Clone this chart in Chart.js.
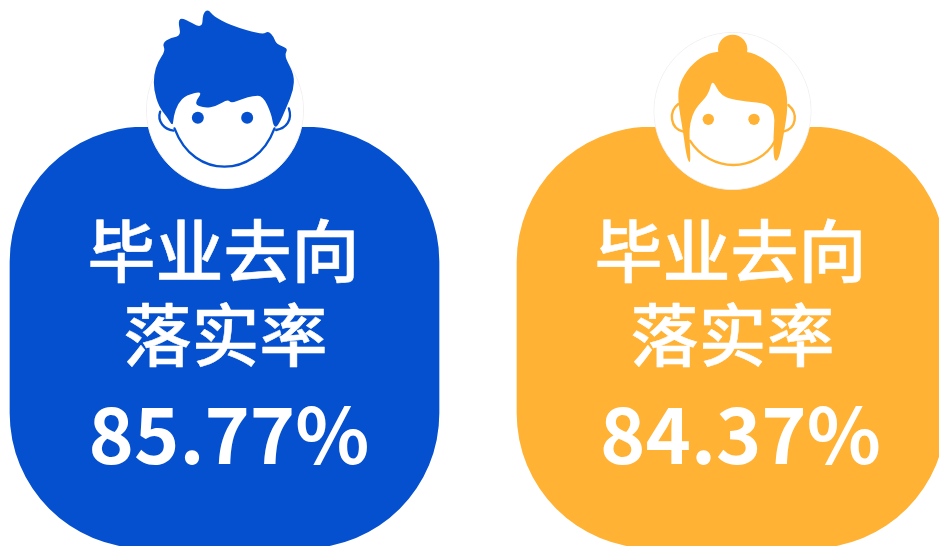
<!DOCTYPE html>
<html>
<head>
<meta charset="utf-8">
<script src="https://cdn.jsdelivr.net/npm/chart.js@4"></script>
<style>
html,body{margin:0;padding:0;background:#fff;overflow:hidden;width:939px;height:546px}
#wrap{position:absolute;left:-29px;top:0;width:1014px;height:560px}
</style>
</head>
<body>
<div id="wrap"><canvas id="rate" width="1014" height="560"></canvas></div>
<script>
var categories = ['男', '女'];
var rates = [85.77, 84.37];
var cardValues = [100, 100];
var titleLines = ['毕业去向', '落实率'];
var colors = ['#0550cf', '#ffb233'];

// hair outlines (px*3, origin = top left of the avatar box)
var boyHair = [[130,380],[112,350],[88,320],[73,270],[73,225],[85,185],[108,152],[98,130],[125,112],[155,108],[145,62],[160,52],[218,88],[220,40],[236,28],[252,48],[300,75],[400,105],[416,92],[434,112],[440,132],[476,145],[466,162],[472,182],[494,225],[492,270],[472,320],[445,380],[432,380],[425,340],[400,287],[370,287],[340,296],[305,310],[295,298],[260,319],[225,324],[192,312],[222,273],[170,285],[145,310],[132,350]];
var girlHair = [[146,426],[138,400],[130,340],[113,240],[118,190],[150,138],[195,103],[240,93],[320,93],[370,113],[412,150],[437,200],[444,260],[432,340],[416,422],[401,422],[400,350],[405,280],[380,250],[320,245],[260,235],[235,215],[217,178],[205,225],[165,265],[150,310],[148,345],[152,426]];

function smooth(ctx, pts) {
	ctx.beginPath();
	var n = pts.length;
	ctx.moveTo((pts[n-1][0]+pts[0][0])/2, (pts[n-1][1]+pts[0][1])/2);
	for (var i = 0; i < n; i++) {
		var p = pts[i], q = pts[(i+1)%n];
		ctx.quadraticCurveTo(p[0], p[1], (p[0]+q[0])/2, (p[1]+q[1])/2);
	}
	ctx.closePath();
	ctx.fill();
}
function dot(ctx, x, y, r) {
	ctx.beginPath();
	ctx.arc(x, y, r, 0, Math.PI*2);
	ctx.fill();
}
function line(ctx, d) {
	ctx.stroke(new Path2D(d));
}

function drawBoy(ctx) {
	smooth(ctx, boyHair);
	dot(ctx, 205, 353, 18);
	dot(ctx, 353, 353, 18);
	line(ctx, 'M135 385 C165 465 225 500 285 500 C345 500 405 465 435 385');
	line(ctx, 'M92 335 C82 365 105 388 132 392');
	line(ctx, 'M478 325 C490 360 470 385 440 390');
}
function drawGirl(ctx) {
	dot(ctx, 278, 88, 44);
	smooth(ctx, girlHair);
	dot(ctx, 205, 298, 17);
	dot(ctx, 342, 298, 17);
	line(ctx, 'M150 362 C180 410 230 435 280 435 C330 435 380 410 405 362');
	line(ctx, 'M115 252 C85 275 90 325 130 335');
	line(ctx, 'M445 255 C475 280 470 325 430 335');
}

var avatars = [
	{ draw: drawBoy, dx: 95, dy: 127, cx: 0.5, cy: -17, r: 78.5 },
	{ draw: drawGirl, dx: 91.5, dy: 107, cx: 1, cy: -16, r: 78.5 }
];

var cardPlugin = {
	id: 'cardText',
	afterDatasetsDraw: function(chart) {
		var ctx = chart.ctx;
		var bars = chart.getDatasetMeta(0).data;
		bars.forEach(function(bar, i) {
			var a = avatars[i];
			ctx.save();
			// white disc behind the head
			ctx.beginPath();
			ctx.arc(bar.x + a.cx, bar.y + a.cy, a.r, 0, Math.PI*2);
			ctx.fillStyle = '#fff';
			ctx.fill();
			ctx.strokeStyle = '#f0f0f0';
			ctx.lineWidth = 1;
			ctx.stroke();
			ctx.beginPath();
			ctx.arc(bar.x + a.cx, bar.y + a.cy, a.r - 0.5, 0, Math.PI*2);
			ctx.fill();
			// the head itself, in the card colour
			ctx.translate(bar.x - a.dx, bar.y - a.dy);
			ctx.scale(1/3, 1/3);
			ctx.fillStyle = colors[i];
			ctx.strokeStyle = colors[i];
			ctx.lineWidth = 7;
			ctx.lineCap = 'round';
			a.draw(ctx);
			ctx.restore();

			ctx.save();
			ctx.fillStyle = '#fff';
			ctx.strokeStyle = '#fff';
			ctx.lineWidth = 0.5;
			ctx.lineJoin = 'round';
			ctx.textAlign = 'center';
			ctx.textBaseline = 'middle';
			// regular weight looked too thin, bold too heavy: thicken it a little
			ctx.font = '500 68px "Noto Sans CJK SC"';
			ctx.fillText(titleLines[0], bar.x - 1, bar.y + 124);
			ctx.strokeText(titleLines[0], bar.x - 1, bar.y + 124);
			ctx.fillText(titleLines[1], bar.x + 1, bar.y + 208);
			ctx.strokeText(titleLines[1], bar.x + 1, bar.y + 208);
			ctx.font = '700 77px "Noto Sans CJK SC"';
			ctx.fillText(rates[i].toFixed(2) + '%', bar.x + (i ? 9 : 4.5), bar.y + 308);
			ctx.restore();
		});
	}
};

var ctx = document.getElementById('rate').getContext('2d');
var chart = new Chart(ctx, {
	type: 'bar',
	data: {
		labels: categories,
		datasets: [{
			data: cardValues,
			backgroundColor: colors,
			borderRadius: 135,
			borderSkipped: false,
			barThickness: 429
		}]
	},
	options: {
		responsive: false,
		animation: false,
		layout: { padding: { top: 127, bottom: 12, left: 0, right: 0 } },
		plugins: { legend: { display: false }, tooltip: { enabled: false } },
		scales: {
			x: { display: false },
			y: { display: false, min: 0, max: 100 }
		}
	},
	plugins: [cardPlugin]
});
</script>
</body>
</html>
